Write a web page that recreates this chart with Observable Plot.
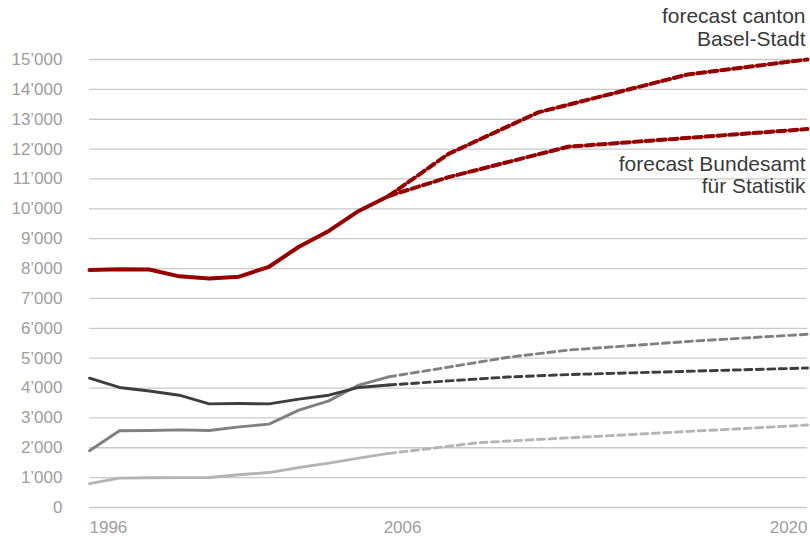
<!DOCTYPE html>
<html>
<head>
<meta charset="utf-8">
<script src="https://cdn.jsdelivr.net/npm/d3@7"></script>
<script src="https://cdn.jsdelivr.net/npm/@observablehq/plot@0.6"></script>
<style>
  html, body { margin: 0; padding: 0; background: #fff; }
  #chart svg { display: block; }
</style>
</head>
<body>
<div id="chart"></div>
<script>
// Actual values 1996–2006
const years = [1996, 1997, 1998, 1999, 2000, 2001, 2002, 2003, 2004, 2005, 2006];
const basel  = [7950, 7980, 7970, 7740, 7670, 7730, 8060, 8730, 9260, 9930, 10430];
const dark   = [4330, 4020, 3900, 3760, 3470, 3480, 3470, 3630, 3760, 4020, 4100];
const medium = [1900, 2570, 2580, 2600, 2580, 2700, 2790, 3260, 3570, 4100, 4375];
const light  = [800, 985, 995, 1000, 1005, 1095, 1170, 1340, 1485, 1655, 1810];

// Forecasts
const cantonYears = [2006, 2008, 2011, 2016, 2020];
const canton      = [10430, 11840, 13230, 14500, 15000];
const bundYears   = [2006, 2008, 2012, 2020];
const bund        = [10430, 11060, 12080, 12670];
const darkFcYears = [2006, 2008, 2010, 2012, 2016, 2020];
const darkFc      = [4100, 4240, 4370, 4450, 4560, 4670];
const medFcYears  = [2006, 2008, 2010, 2012, 2016, 2020];
const medFc       = [4375, 4700, 5030, 5270, 5560, 5800];
const lightFcYears = [2006, 2009, 2020];
const lightFc      = [1810, 2170, 2760];

const yTicks = d3.range(0, 15001, 1000);
const xTickLabels = [1996, 2006, 2020];

const zip = (xs, ys) => xs.map((x, i) => ({x, y: ys[i]}));

const RED = "#960000", DARK = "#3d3d3d", MED = "#808080", LIGHT = "#b4b4b4";
const TICK = "#9d9d9d", NOTE = "#3a3a3a";
const locale = d3.formatLocale({decimal: ".", thousands: "\u2019", grouping: [3], currency: ["", ""]});
const fmt = locale.format(",d");

const chart = Plot.plot({
  width: 810,
  height: 537,
  marginLeft: 89,
  marginRight: 3,
  marginTop: 59,
  marginBottom: 30,
  style: {fontFamily: "'Liberation Sans', Arial, sans-serif", background: "#fff"},
  x: {type: "linear", domain: [1996, 2020], axis: null},
  y: {domain: [0, 15000], axis: null},
  marks: [
    Plot.ruleY(yTicks, {stroke: "#c9c9c9", strokeWidth: 1.3}),
    Plot.axisY(yTicks, {tickSize: 0, tickPadding: 27, fontSize: 17, fill: TICK, tickFormat: fmt, label: null}),
    // x tick labels
    Plot.text([xTickLabels[0]], {x: d => d, y: [0], dy: 20, fontSize: 17, fill: TICK, text: d => String(d), textAnchor: "start"}),
    Plot.text([xTickLabels[1]], {x: d => d, y: [0], dy: 20, dx: -5, fontSize: 17, fill: TICK, text: d => String(d), textAnchor: "start"}),
    Plot.text([xTickLabels[2]], {x: d => d, y: [0], dy: 20, fontSize: 17, fill: TICK, text: d => String(d), textAnchor: "end"}),
    // light gray
    Plot.line(zip(lightFcYears, lightFc), {x: "x", y: "y", stroke: LIGHT, strokeWidth: 2.9, strokeDasharray: "7,4.5"}),
    Plot.line(zip(years, light), {x: "x", y: "y", stroke: LIGHT, strokeWidth: 2.9}),
    // medium gray
    Plot.line(zip(medFcYears, medFc), {x: "x", y: "y", stroke: MED, strokeWidth: 2.9, strokeDasharray: "7,4.5"}),
    Plot.line(zip(years, medium), {x: "x", y: "y", stroke: MED, strokeWidth: 2.9}),
    // dark gray
    Plot.line(zip(darkFcYears, darkFc), {x: "x", y: "y", stroke: DARK, strokeWidth: 2.9, strokeDasharray: "7,4.5"}),
    Plot.line(zip(years, dark), {x: "x", y: "y", stroke: DARK, strokeWidth: 2.9}),
    // red
    Plot.line(zip(cantonYears, canton), {x: "x", y: "y", stroke: RED, strokeWidth: 4, strokeDasharray: "8,4"}),
    Plot.line(zip(bundYears, bund), {x: "x", y: "y", stroke: RED, strokeWidth: 4, strokeDasharray: "8,4"}),
    Plot.line(zip(years, basel), {x: "x", y: "y", stroke: RED, strokeWidth: 4}),
    // annotations
    Plot.text(["forecast canton"], {x: [cantonYears.at(-1)], y: [canton.at(-1)], dy: -43, dx: -2, textAnchor: "end", fontSize: 21, fill: NOTE}),
    Plot.text(["Basel-Stadt"], {x: [cantonYears.at(-1)], y: [canton.at(-1)], dy: -20, dx: -2, textAnchor: "end", fontSize: 21, fill: NOTE}),
    Plot.text(["forecast Bundesamt"], {x: [bundYears.at(-1)], y: [bund.at(-1)], dy: 35, dx: -2, textAnchor: "end", fontSize: 21, fill: NOTE}),
    Plot.text(["für Statistik"], {x: [bundYears.at(-1)], y: [bund.at(-1)], dy: 57.5, dx: -2, textAnchor: "end", fontSize: 21, fill: NOTE})
  ]
});
document.getElementById("chart").appendChild(chart);
</script>
</body>
</html>
